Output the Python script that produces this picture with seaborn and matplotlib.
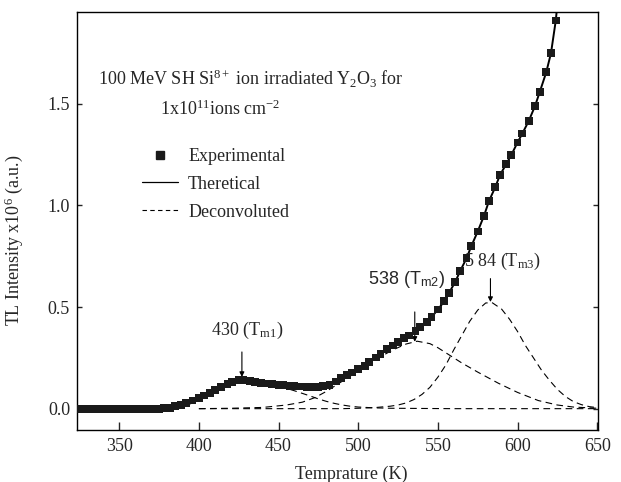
import numpy as np
import pandas as pd
import matplotlib
matplotlib.use("Agg")
import matplotlib.pyplot as plt
import seaborn as sns
from matplotlib.lines import Line2D

# ---------------- data ----------------
exp_T = [324, 328, 331, 335, 339, 342, 346, 349, 353, 357, 360, 364, 367, 371, 375, 378,
         382, 385, 389, 392, 396, 400, 403, 407, 410, 414,
         418, 421, 425, 428, 432, 435, 439, 443, 446, 450,
         453, 457, 460, 464, 468, 471, 475, 478, 482, 486,
         489, 493, 496, 500, 504, 507, 511, 514, 518, 522,
         525, 529, 532, 536, 539, 543, 546, 550, 554, 557,
         561, 564, 568, 571, 575, 579, 582, 586, 589, 593,
         596, 600, 603, 607, 611, 614, 618, 621, 624]
exp_I = [0.0, 0.0, 0.0, 0.0, 0.0, 0.0, 0.0, 0.0, 0.0, 0.0, 0.0, 0.0, 0.0, 0.0, 0.0, 0.002,
         0.005, 0.012, 0.020, 0.028, 0.040, 0.053, 0.065, 0.078, 0.090, 0.106,
         0.121, 0.131, 0.139, 0.141, 0.137, 0.132, 0.127, 0.124, 0.121, 0.118,
         0.116, 0.113, 0.111, 0.109, 0.108, 0.107, 0.107, 0.110, 0.118, 0.134,
         0.149, 0.165, 0.178, 0.194, 0.212, 0.228, 0.252, 0.270, 0.292, 0.311,
         0.327, 0.346, 0.360, 0.381, 0.401, 0.425, 0.450, 0.488, 0.528, 0.570,
         0.625, 0.678, 0.740, 0.800, 0.872, 0.950, 1.020, 1.090, 1.150, 1.205,
         1.247, 1.310, 1.354, 1.415, 1.490, 1.560, 1.655, 1.750, 1.910]

# theoretical fit continues a little past the last measured point
theo_tail_T = [627]
theo_tail_I = [2.15]

p1_T = [385, 390, 395, 400, 405, 410, 415, 420, 426, 432, 440, 445, 450, 455, 460, 465,
        470, 475, 480, 485, 490, 495, 500, 510, 520, 540, 560, 600, 650]
p1_I = [0.005, 0.012, 0.025, 0.045, 0.065, 0.088, 0.110, 0.128, 0.138, 0.135, 0.125, 0.118,
        0.110, 0.100, 0.088, 0.075, 0.062, 0.048, 0.036, 0.026, 0.018, 0.012, 0.008, 0.004,
        0.002, 0.001, 0.0, 0.0, 0.0]

p2_T = [400, 420, 440, 455, 465, 473, 480, 488, 495, 500, 508, 515, 522, 530, 537, 545,
        550, 558, 565, 575, 588, 600, 613, 625, 635, 650]
p2_I = [0.0, 0.002, 0.006, 0.018, 0.032, 0.055, 0.085, 0.125, 0.160, 0.190, 0.225, 0.260,
        0.290, 0.318, 0.332, 0.320, 0.300, 0.260, 0.225, 0.180, 0.125, 0.080, 0.040, 0.018,
        0.008, 0.002]

p3_T = [400, 450, 490, 500, 510, 520, 525, 530, 535, 540, 545, 550, 555, 560, 565, 570,
        575, 580, 584, 590, 595, 600, 605, 610, 615, 620, 625, 630, 635, 640, 645, 650]
p3_I = [0.0, 0.0, 0.0, 0.002, 0.005, 0.012, 0.018, 0.028, 0.045, 0.070, 0.105, 0.155,
        0.215, 0.290, 0.360, 0.430, 0.485, 0.520, 0.522, 0.490, 0.440, 0.380, 0.310, 0.250,
        0.190, 0.140, 0.095, 0.060, 0.035, 0.020, 0.010, 0.005]

x_ticks = [350, 400, 450, 500, 550, 600, 650]
y_ticks = [0.0, 0.5, 1.0, 1.5]

# annotation positions (temperature of arrow, arrow top/bottom, label anchor)
ann_labels = ["430 (T$_{\\mathrm{m1}}$)", "538 (T$_{\\mathsf{m2}}$)", "5 84 (T$_{\\mathrm{m3}}$)"]
ann_arrow_T = [427, 535.5, 583]
ann_arrow_top = [0.279, 0.476, 0.64]
ann_arrow_bot = [0.156, 0.329, 0.525]
ann_text_T = [407.8, 506.3, 566.5]
ann_text_y = [0.361, 0.612, 0.70]

# ---------------- style ----------------
sns.set_style("ticks")
plt.rcParams["font.family"] = ["Liberation Serif", "DejaVu Serif"]
plt.rcParams["mathtext.fontset"] = "custom"
plt.rcParams["mathtext.rm"] = "Liberation Serif"
plt.rcParams["mathtext.it"] = "Liberation Serif:italic"
plt.rcParams["mathtext.bf"] = "Liberation Serif:bold"
plt.rcParams["mathtext.sf"] = "Liberation Sans"
FS = 13

fig = plt.figure(figsize=(6.21, 4.82), dpi=100)
ax = fig.add_axes([77 / 621, 1 - 430 / 482, 521 / 621, 418 / 482])

df_exp = pd.DataFrame({"T": exp_T, "I": exp_I})
df_theo = pd.DataFrame({"T": exp_T + theo_tail_T, "I": exp_I + theo_tail_I})

dash = (0, (6, 4))
for T, I in [(p1_T, p1_I), (p2_T, p2_I), (p3_T, p3_I)]:
    d = pd.DataFrame({"T": T, "I": I})
    sns.lineplot(data=d, x="T", y="I", ax=ax, color="black", lw=0.8,
                 linestyle=dash, sort=False, estimator=None)

sns.lineplot(data=df_theo, x="T", y="I", ax=ax, color="black", lw=1.4,
             sort=False, estimator=None)
sns.scatterplot(data=df_exp, x="T", y="I", ax=ax, marker="s", s=32,
                color="#1a1a1a", edgecolor="none", zorder=5)

ax.set_xlim(323.5, 650.5)
ax.set_ylim(-0.105, 1.952)
ax.set_xticks(x_ticks)
ax.set_yticks(y_ticks)
ax.set_xticklabels([str(v) for v in x_ticks], fontsize=FS)
ax.set_yticklabels([f"{v:.1f}" for v in y_ticks], fontsize=FS)
ax.tick_params(axis="x", direction="in", length=5.5, width=1.0, pad=6)
ax.tick_params(axis="y", direction="in", length=3.5, width=1.0, pad=5,
               right=True)
for s in ax.spines.values():
    s.set_linewidth(1.0)
    s.set_color("black")
    s.set_visible(True)

ax.set_xlabel("Temprature (K)", fontsize=FS)
ax.set_ylabel("TL Intensity x10$^{6}$ (a.u.)", fontsize=FS)
ax.xaxis.set_label_coords(0.526, -0.085)
ax.yaxis.set_label_coords(-0.10, 0.455)

# header text
ax.text(0.040, 0.825, "100 MeV SH Si$^{8+}$ ion irradiated Y$_{2}$O$_{3}$ for",
        transform=ax.transAxes, fontsize=FS, va="baseline", ha="left")
ax.text(0.159, 0.754, "1x10$^{11}$ions cm$^{-2}$",
        transform=ax.transAxes, fontsize=FS, va="baseline", ha="left")

# legend
handles = [Line2D([], [], marker="s", color="#1a1a1a", linestyle="none", markersize=5.5),
           Line2D([], [], color="black", lw=0.9),
           Line2D([], [], color="black", lw=0.8, linestyle=(0, (4, 3)))]
ax.legend(handles, ["Experimental", "Theretical", "Deconvoluted"],
          loc="upper left", bbox_to_anchor=(0.125, 0.675), frameon=False,
          fontsize=FS, handlelength=2.0, handletextpad=0.55, labelspacing=0.6,
          borderpad=0, borderaxespad=0)

# peak annotations
for i, lab in enumerate(ann_labels):
    ax.annotate("", xy=(ann_arrow_T[i], ann_arrow_bot[i]),
                xytext=(ann_arrow_T[i], ann_arrow_top[i]),
                arrowprops=dict(arrowstyle="-|>", color="black", lw=0.8,
                                mutation_scale=7, shrinkA=0, shrinkB=0))
    fam = ["Liberation Sans"] if i == 1 else ["Liberation Serif"]
    ax.text(ann_text_T[i], ann_text_y[i], lab, fontsize=FS, family=fam,
            va="baseline", ha="left")

fig.savefig("out.png", dpi=100)
